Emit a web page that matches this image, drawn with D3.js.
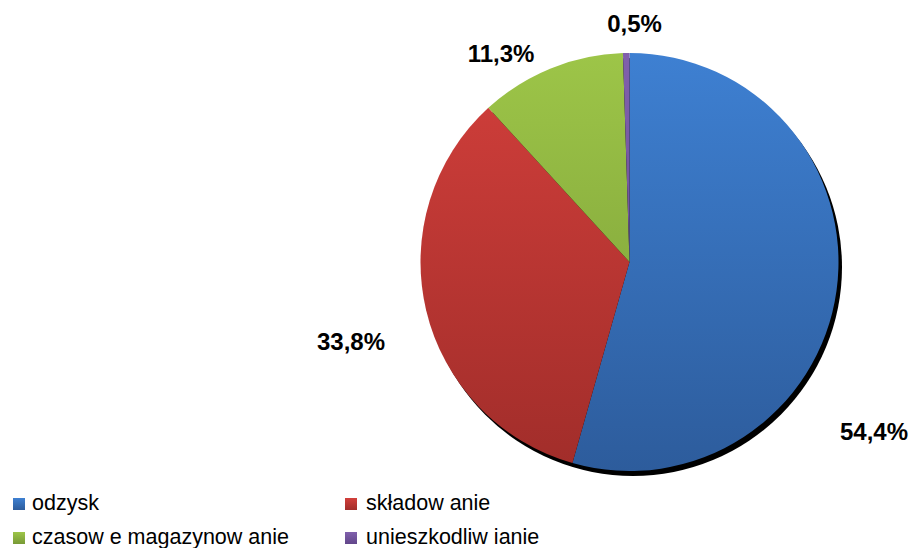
<!DOCTYPE html>
<html><head><meta charset="utf-8">
<script src="https://cdn.jsdelivr.net/npm/d3@7"></script>
<style>body{margin:0;background:#fff}svg{display:block}</style>
</head><body>
<svg id="chart" width="909" height="548"></svg>
<script>
const categories = ["odzysk", "składow anie", "czasow e magazynow anie", "unieszkodliw ianie"];
const values = [54.4, 33.8, 11.3, 0.5];
const valueLabels = ["54,4%", "33,8%", "11,3%", "0,5%"];
const colorsTop = ["#3E80D2", "#D23F3B", "#9DC548", "#8060AC"];
const colorsBottom = ["#2D5C9C", "#A12D2A", "#789A36", "#62468A"];

const layout = {
  cx: 629.5, cy: 262, r: 209,
  labelPos: [[874, 440], [351, 350], [501, 62], [634.5, 32]],
  legendPos: [[13, 498], [345, 498], [13, 532], [345, 532]]
};

const svg = d3.select("#chart");
const defs = svg.append("defs");
categories.forEach((c, i) => {
  const g = defs.append("linearGradient").attr("id", "g" + i)
    .attr("gradientUnits", "userSpaceOnUse")
    .attr("x1", 0).attr("y1", -layout.r).attr("x2", 0).attr("y2", layout.r);
  g.append("stop").attr("offset", "0%").attr("stop-color", colorsTop[i]);
  g.append("stop").attr("offset", "100%").attr("stop-color", colorsBottom[i]);
  const lg = defs.append("linearGradient").attr("id", "lg" + i)
    .attr("x1", 0).attr("y1", 0).attr("x2", 0).attr("y2", 1);
  lg.append("stop").attr("offset", "0%").attr("stop-color", colorsTop[i]);
  lg.append("stop").attr("offset", "100%").attr("stop-color", colorsBottom[i]);
});

const pie = d3.pie().sort(null).value(d => d);
const arcs = pie(values);
const arc = d3.arc().innerRadius(0).outerRadius(layout.r);

// shadow
svg.append("circle").attr("cx", layout.cx + 3.5).attr("cy", layout.cy + 5).attr("r", layout.r)
  .attr("fill", "#000");

const g = svg.append("g").attr("transform", `translate(${layout.cx},${layout.cy})`);
g.selectAll("path").data(arcs).join("path")
  .attr("d", arc)
  .attr("fill", (d, i) => `url(#g${i})`);

svg.selectAll("text.lbl").data(valueLabels).join("text")
  .attr("class", "lbl")
  .attr("x", (d, i) => layout.labelPos[i][0])
  .attr("y", (d, i) => layout.labelPos[i][1])
  .attr("text-anchor", "middle")
  .attr("font-family", "Liberation Sans, Arial, sans-serif")
  .attr("font-weight", "bold")
  .attr("font-size", 24)
  .attr("fill", "#000")
  .text(d => d);

const leg = svg.selectAll("g.leg").data(categories).join("g")
  .attr("class", "leg")
  .attr("transform", (d, i) => `translate(${layout.legendPos[i][0]},${layout.legendPos[i][1]})`);
leg.append("rect").attr("width", 12).attr("height", 12).attr("fill", (d, i) => `url(#lg${i})`);
leg.append("text").attr("x", (d, i) => i % 2 === 0 ? 19 : 21).attr("y", 12)
  .attr("font-family", "Liberation Sans, Arial, sans-serif")
  .attr("font-size", 21.5).attr("fill", "#000")
  .text(d => d);
</script>
</body></html>
